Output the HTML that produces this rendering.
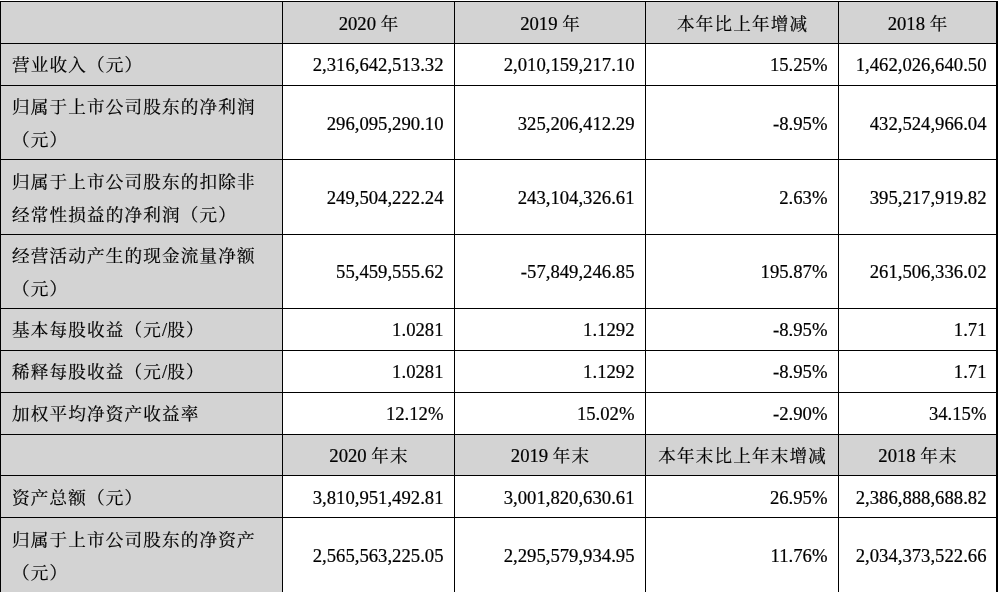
<!DOCTYPE html>
<html lang="zh-CN"><head><meta charset="utf-8"><title>主要会计数据和财务指标</title>
<style>
html,body{margin:0;padding:0;background:#fff;}
body{width:998px;height:592px;overflow:hidden;position:relative;
 font-family:"Liberation Serif","Noto Serif CJK SC",serif;font-size:18.7px;line-height:24px;color:#000;-webkit-text-stroke:0.2px #000;}
.g{position:absolute;background:#d3d3d3;}
.l{position:absolute;background:#000;}
.c{position:absolute;box-sizing:border-box;white-space:nowrap;overflow:visible;}
.c p{position:absolute;left:0;right:0;margin:0;height:24px;}
.c.a p{text-align:left;padding-left:11px;}
.c.r p{text-align:right;padding-right:10.5px;}
.c.m p{text-align:center;padding-left:1.16px;}
.z{font-size:17.6px;letter-spacing:1.16px;}
.z.t{letter-spacing:0;}
.c.e p{padding-right:9.5px;}
</style></head><body>

<div class="g" style="left:0;top:1px;width:282px;height:591px"></div>
<div class="g" style="left:0;top:1px;width:998px;height:42px"></div>
<div class="g" style="left:0;top:434px;width:998px;height:41px"></div>
<div class="l" style="left:0;top:1px;width:998px;height:1px"></div>
<div class="l" style="left:0;top:43px;width:998px;height:1px"></div>
<div class="l" style="left:0;top:85px;width:998px;height:1px"></div>
<div class="l" style="left:0;top:159px;width:998px;height:1px"></div>
<div class="l" style="left:0;top:234px;width:998px;height:1px"></div>
<div class="l" style="left:0;top:308px;width:998px;height:1px"></div>
<div class="l" style="left:0;top:350px;width:998px;height:1px"></div>
<div class="l" style="left:0;top:392px;width:998px;height:1px"></div>
<div class="l" style="left:0;top:434px;width:998px;height:1px"></div>
<div class="l" style="left:0;top:475px;width:998px;height:1px"></div>
<div class="l" style="left:0;top:517px;width:998px;height:1px"></div>
<div class="l" style="left:0px;top:1px;width:1px;height:591px"></div>
<div class="l" style="left:282px;top:1px;width:1px;height:591px"></div>
<div class="l" style="left:454px;top:1px;width:1px;height:591px"></div>
<div class="l" style="left:645px;top:1px;width:1px;height:591px"></div>
<div class="l" style="left:838px;top:1px;width:1px;height:591px"></div>
<div class="l" style="left:996px;top:1px;width:2px;height:591px"></div>
<div class="c m" style="left:283px;top:2px;width:171px;height:41px"><p style="top:10.4px">2020 <span class="z">年</span></p></div>
<div class="c m" style="left:455px;top:2px;width:190px;height:41px"><p style="top:10.4px">2019 <span class="z">年</span></p></div>
<div class="c m" style="left:646px;top:2px;width:192px;height:41px"><p style="top:10.4px"><span class="z">本年比上年增减</span></p></div>
<div class="c m" style="left:839px;top:2px;width:157px;height:41px"><p style="top:10.4px">2018 <span class="z">年</span></p></div>
<div class="c a" style="left:1px;top:44px;width:281px;height:41px"><p style="top:9.4px"><span class="z">营业收入（元）</span></p></div>
<div class="c r" style="left:283px;top:44px;width:171px;height:41px"><p style="top:9.4px">2,316,642,513.32</p></div>
<div class="c r" style="left:455px;top:44px;width:190px;height:41px"><p style="top:9.4px">2,010,159,217.10</p></div>
<div class="c r" style="left:646px;top:44px;width:192px;height:41px"><p style="top:9.4px">15.25%</p></div>
<div class="c r e" style="left:839px;top:44px;width:157px;height:41px"><p style="top:9.4px">1,462,026,640.50</p></div>
<div class="c a" style="left:1px;top:86px;width:281px;height:73px"><p style="top:8.85px"><span class="z">归属于上市公司股东的净利润</span></p><p style="top:41.55px"><span class="z">（元）</span></p></div>
<div class="c r" style="left:283px;top:86px;width:171px;height:73px"><p style="top:26.4px">296,095,290.10</p></div>
<div class="c r" style="left:455px;top:86px;width:190px;height:73px"><p style="top:26.4px">325,206,412.29</p></div>
<div class="c r" style="left:646px;top:86px;width:192px;height:73px"><p style="top:26.4px">-8.95%</p></div>
<div class="c r e" style="left:839px;top:86px;width:157px;height:73px"><p style="top:26.4px">432,524,966.04</p></div>
<div class="c a" style="left:1px;top:160px;width:281px;height:74px"><p style="top:10.05px"><span class="z">归属于上市公司股东的扣除非</span></p><p style="top:42.75px"><span class="z">经常性损益的净利润（元）</span></p></div>
<div class="c r" style="left:283px;top:160px;width:171px;height:74px"><p style="top:26.4px">249,504,222.24</p></div>
<div class="c r" style="left:455px;top:160px;width:190px;height:74px"><p style="top:26.4px">243,104,326.61</p></div>
<div class="c r" style="left:646px;top:160px;width:192px;height:74px"><p style="top:26.4px">2.63%</p></div>
<div class="c r e" style="left:839px;top:160px;width:157px;height:74px"><p style="top:26.4px">395,217,919.82</p></div>
<div class="c a" style="left:1px;top:235px;width:281px;height:73px"><p style="top:9.05px"><span class="z">经营活动产生的现金流量净额</span></p><p style="top:41.75px"><span class="z">（元）</span></p></div>
<div class="c r" style="left:283px;top:235px;width:171px;height:73px"><p style="top:25.4px">55,459,555.62</p></div>
<div class="c r" style="left:455px;top:235px;width:190px;height:73px"><p style="top:25.4px">-57,849,246.85</p></div>
<div class="c r" style="left:646px;top:235px;width:192px;height:73px"><p style="top:25.4px">195.87%</p></div>
<div class="c r e" style="left:839px;top:235px;width:157px;height:73px"><p style="top:25.4px">261,506,336.02</p></div>
<div class="c a" style="left:1px;top:309px;width:281px;height:41px"><p style="top:9.4px"><span class="z">基本每股收益（元</span>/<span class="z">股）</span></p></div>
<div class="c r" style="left:283px;top:309px;width:171px;height:41px"><p style="top:9.4px">1.0281</p></div>
<div class="c r" style="left:455px;top:309px;width:190px;height:41px"><p style="top:9.4px">1.1292</p></div>
<div class="c r" style="left:646px;top:309px;width:192px;height:41px"><p style="top:9.4px">-8.95%</p></div>
<div class="c r e" style="left:839px;top:309px;width:157px;height:41px"><p style="top:9.4px">1.71</p></div>
<div class="c a" style="left:1px;top:351px;width:281px;height:41px"><p style="top:9.4px"><span class="z">稀释每股收益（元</span>/<span class="z">股）</span></p></div>
<div class="c r" style="left:283px;top:351px;width:171px;height:41px"><p style="top:9.4px">1.0281</p></div>
<div class="c r" style="left:455px;top:351px;width:190px;height:41px"><p style="top:9.4px">1.1292</p></div>
<div class="c r" style="left:646px;top:351px;width:192px;height:41px"><p style="top:9.4px">-8.95%</p></div>
<div class="c r e" style="left:839px;top:351px;width:157px;height:41px"><p style="top:9.4px">1.71</p></div>
<div class="c a" style="left:1px;top:393px;width:281px;height:41px"><p style="top:9.4px"><span class="z">加权平均净资产收益率</span></p></div>
<div class="c r" style="left:283px;top:393px;width:171px;height:41px"><p style="top:9.4px">12.12%</p></div>
<div class="c r" style="left:455px;top:393px;width:190px;height:41px"><p style="top:9.4px">15.02%</p></div>
<div class="c r" style="left:646px;top:393px;width:192px;height:41px"><p style="top:9.4px">-2.90%</p></div>
<div class="c r e" style="left:839px;top:393px;width:157px;height:41px"><p style="top:9.4px">34.15%</p></div>
<div class="c m" style="left:283px;top:435px;width:171px;height:40px"><p style="top:9.4px">2020 <span class="z">年末</span></p></div>
<div class="c m" style="left:455px;top:435px;width:190px;height:40px"><p style="top:9.4px">2019 <span class="z">年末</span></p></div>
<div class="c m" style="left:646px;top:435px;width:192px;height:40px"><p style="top:9.4px"><span class="z">本年末比上年末增减</span></p></div>
<div class="c m" style="left:839px;top:435px;width:157px;height:40px"><p style="top:9.4px">2018 <span class="z">年末</span></p></div>
<div class="c a" style="left:1px;top:476px;width:281px;height:41px"><p style="top:10.4px"><span class="z">资产总额（元）</span></p></div>
<div class="c r" style="left:283px;top:476px;width:171px;height:41px"><p style="top:10.4px">3,810,951,492.81</p></div>
<div class="c r" style="left:455px;top:476px;width:190px;height:41px"><p style="top:10.4px">3,001,820,630.61</p></div>
<div class="c r" style="left:646px;top:476px;width:192px;height:41px"><p style="top:10.4px">26.95%</p></div>
<div class="c r e" style="left:839px;top:476px;width:157px;height:41px"><p style="top:10.4px">2,386,888,688.82</p></div>
<div class="c a" style="left:1px;top:518px;width:281px;height:74px"><p style="top:10.05px"><span class="z">归属于上市公司股东的净资产</span></p><p style="top:42.75px"><span class="z">（元）</span></p></div>
<div class="c r" style="left:283px;top:518px;width:171px;height:74px"><p style="top:26.4px">2,565,563,225.05</p></div>
<div class="c r" style="left:455px;top:518px;width:190px;height:74px"><p style="top:26.4px">2,295,579,934.95</p></div>
<div class="c r" style="left:646px;top:518px;width:192px;height:74px"><p style="top:26.4px">11.76%</p></div>
<div class="c r e" style="left:839px;top:518px;width:157px;height:74px"><p style="top:26.4px">2,034,373,522.66</p></div>
</body></html>
